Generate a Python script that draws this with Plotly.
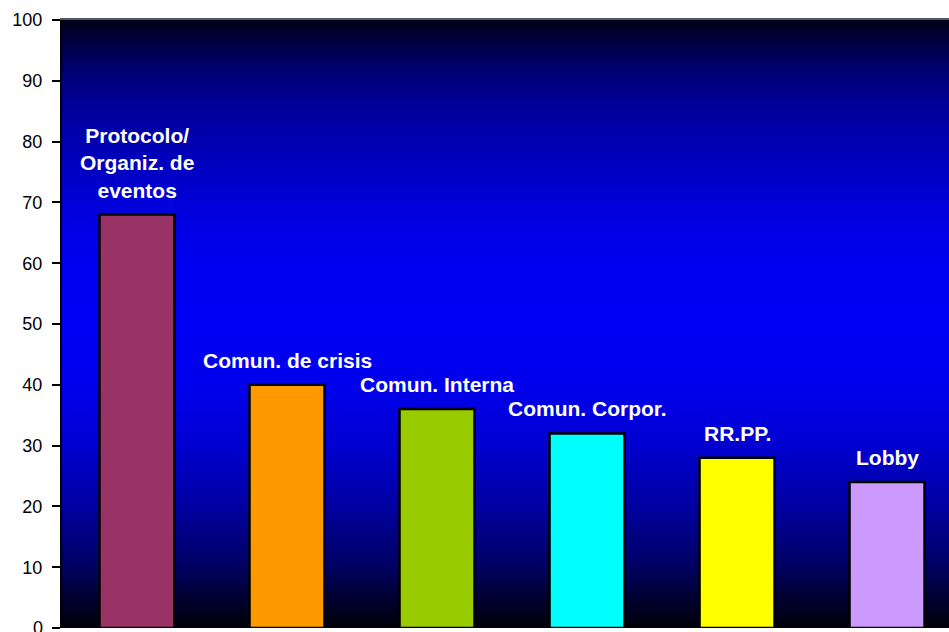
import plotly.graph_objects as go

categories = ["Protocolo/<br>Organiz. de<br>eventos", "Comun. de crisis", "Comun. Interna",
              "Comun. Corpor.", "RR.PP.", "Lobby"]
values = [68, 40, 36, 32, 28, 24]
bar_colors = ["#993366", "#FF9900", "#99CC00", "#00FFFF", "#FFFF00", "#CC99FF"]
y_ticks = [0, 10, 20, 30, 40, 50, 60, 70, 80, 90, 100]

# background gradient (dark at top and bottom, bright blue in middle)
grad_levels = [0, 5, 10, 15, 20, 30, 40, 50, 60, 70, 80, 85, 90, 95, 100]
grad_scale = [
    [0.00, "#000008"], [0.05, "#000030"], [0.10, "#000060"], [0.15, "#000080"],
    [0.20, "#0000a0"], [0.30, "#0000d0"], [0.40, "#0000ec"], [0.50, "#0000f5"],
    [0.60, "#0000f0"], [0.70, "#0000d8"], [0.80, "#0000b0"], [0.85, "#00009c"],
    [0.90, "#000080"], [0.95, "#000050"], [1.00, "#000018"],
]

FONT = "Arial, Liberation Sans, sans-serif"
x_idx = list(range(len(categories)))

fig = go.Figure()
fig.add_trace(go.Heatmap(
    x=[-1, 7], y=grad_levels, z=[[v, v] for v in grad_levels],
    colorscale=grad_scale, zmin=0, zmax=100, zsmooth="best",
    showscale=False, hoverinfo="skip"))
fig.add_trace(go.Bar(
    x=x_idx, y=values, width=0.5,
    marker=dict(color=bar_colors, line=dict(color="black", width=2.5)),
    hoverinfo="skip"))

for i, (c, v) in enumerate(zip(categories, values)):
    fig.add_annotation(x=i, y=v, text="<b>" + c.replace("<br>", "</b><br><b>") + "</b>",
                       showarrow=False, yanchor="bottom",
                       yshift=11, font=dict(family=FONT, size=21, color="white"),
                       align="center")

# bottom "0" tick label (partly outside the canvas, as in the reference)
fig.add_annotation(xref="paper", x=0, yref="y", y=y_ticks[0], text=str(y_ticks[0]),
                   showarrow=False, xanchor="right", yanchor="middle", xshift=-17,
                   font=dict(family=FONT, size=18, color="black"))

fig.update_layout(
    width=949, height=632,
    margin=dict(l=62, r=0, t=20, b=4),
    paper_bgcolor="white", plot_bgcolor="#000060",
    showlegend=False,
    font=dict(family=FONT),
    bargap=0.5,
)
fig.update_xaxes(range=[-0.5, 5.413], showticklabels=False, ticks="", showgrid=False,
                 zeroline=False, side="top", showline=True, linecolor="#555566", linewidth=2)
fig.update_yaxes(range=[0, 100], tickvals=y_ticks, ticks="outside", ticklen=8, tickwidth=2,
                 tickcolor="black", showline=True, linecolor="black", linewidth=2,
                 showgrid=False, zeroline=False, ticklabelstandoff=6,
                 tickfont=dict(family=FONT, size=18, color="black"))

fig.write_html("out.html", config={"displayModeBar": False},
               post_script="document.body.style.margin='0';document.body.style.overflow='hidden';")
